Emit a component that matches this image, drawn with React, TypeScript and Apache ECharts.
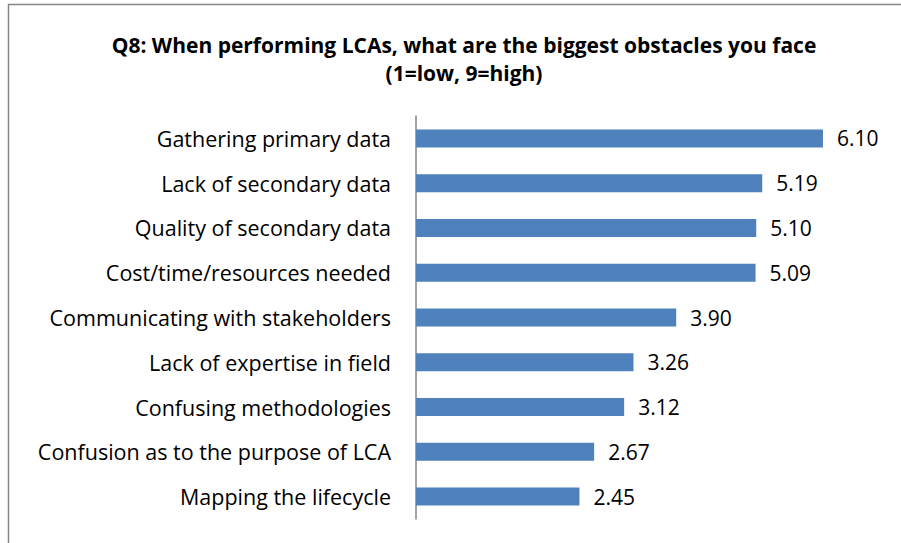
import React, { useEffect, useRef } from "react";
import * as echarts from "echarts";

const categories = [
  "Gathering primary data",
  "Lack of secondary data",
  "Quality of secondary data",
  "Cost/time/resources needed",
  "Communicating with stakeholders",
  "Lack of expertise in field",
  "Confusing methodologies",
  "Confusion as to the purpose of LCA",
  "Mapping the lifecycle",
];
const values = [6.1, 5.19, 5.1, 5.09, 3.9, 3.26, 3.12, 2.67, 2.45];
const titleText = "Q8: When performing LCAs, what are the biggest obstacles you face\n(1=low, 9=high)";

export default function App() {
  const ref = useRef<HTMLDivElement>(null);
  useEffect(() => {
    if (!ref.current) return;
    const chart = echarts.init(ref.current, undefined, { renderer: "svg" });
    chart.setOption({
      animation: false,
      backgroundColor: "#ffffff",
      title: {
        text: titleText,
        left: 459,
        textAlign: "center",
        top: 26,
        textStyle: {
          fontFamily: "Open Sans",
          fontWeight: "bold",
          fontSize: 21,
          lineHeight: 28,
          color: "#000",
        },
      },
      graphic: [
        {
          type: "rect",
          shape: { x: 8.5, y: 4.5, width: 1000, height: 1000 },
          style: { fill: "none", stroke: "#878787", lineWidth: 1.5 },
          silent: true,
        },
      ],
      grid: { left: 416, right: 18, top: 116, height: 403, containLabel: false },
      xAxis: {
        type: "value",
        min: 0,
        max: 7,
        show: false,
      },
      yAxis: {
        type: "category",
        data: categories,
        inverse: true,
        axisLine: { show: true, lineStyle: { color: "#868686", width: 1.5 } },
        axisTick: { show: false },
        axisLabel: {
          margin: 25,
          fontFamily: "Open Sans",
          fontSize: 21.5,
          color: "#000",
        },
      },
      series: [
        {
          type: "bar",
          data: values,
          barWidth: 18,
          itemStyle: { color: "#4F81BD" },
          label: {
            show: true,
            position: "right",
            distance: 14,
            fontFamily: "Open Sans",
            fontSize: 21,
            color: "#000",
            formatter: (p: any) => Number(p.value).toFixed(2),
          },
        },
      ],
    });
    return () => chart.dispose();
  }, []);
  return (
    <div
      ref={ref}
      style={{ position: "fixed", left: 0, top: 0, width: 901, height: 543 }}
    />
  );
}
